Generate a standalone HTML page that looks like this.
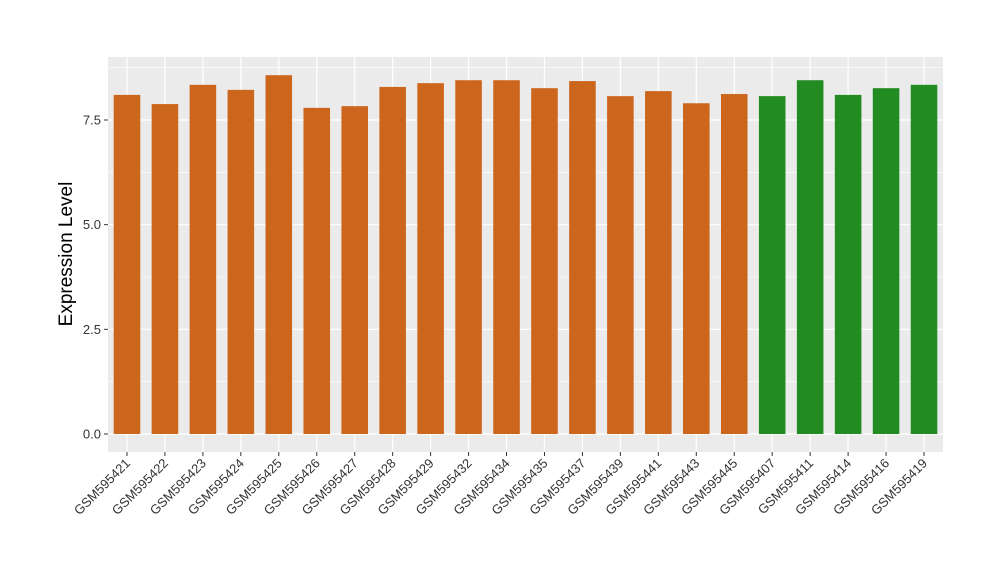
<!DOCTYPE html>
<html><head><meta charset="utf-8"><style>
body{margin:0;background:#fff;}
svg text{font-family:"Liberation Sans",sans-serif;}
</style></head><body>
<svg id="chart" width="1000" height="580">
<rect x="108" y="57" width="835" height="395" fill="#ebebeb"/>
<g id="grid"></g><g id="bars"></g><g id="yaxis"></g><g id="xaxis"></g>
<text x="72" y="254" transform="rotate(-90 72 254)" text-anchor="middle" font-size="19" fill="#000">Expression Level</text>
</svg>
<script>
const categories=["GSM595421","GSM595422","GSM595423","GSM595424","GSM595425","GSM595426","GSM595427","GSM595428","GSM595429","GSM595432","GSM595434","GSM595435","GSM595437","GSM595439","GSM595441","GSM595443","GSM595445","GSM595407","GSM595411","GSM595414","GSM595416","GSM595419"];
const values=[8.10,7.88,8.34,8.22,8.57,7.79,7.83,8.29,8.38,8.45,8.45,8.26,8.43,8.07,8.19,7.90,8.12,8.07,8.45,8.10,8.26,8.34];
const groups=["a","a","a","a","a","a","a","a","a","a","a","a","a","a","a","a","a","b","b","b","b","b"];
const yTicks=[0,2.5,5,7.5];
const yTickLabels=["0.0","2.5","5.0","7.5"];
const NS="http://www.w3.org/2000/svg";
const x0=108,x1=943,yTop=57,yBot=452;
const y=v=>434-v*(314/7.5);
const step=(x1-x0)/categories.length;
const x=i=>x0+step*(i+0.5);
function mk(t,a,p){const e=document.createElementNS(NS,t);for(const k in a)e.setAttribute(k,a[k]);p.appendChild(e);return e;}
const grid=document.getElementById('grid');
for(let k=0;k<yTicks.length;k++){
  if(k<yTicks.length-1){const m=(yTicks[k]+yTicks[k+1])/2;const l=mk('line',{x1:x0,x2:x1,y1:y(m),y2:y(m),stroke:'#fff','stroke-width':0.6},grid);
  
  }
  const l=mk('line',{x1:x0,x2:x1,y1:y(yTicks[k]),y2:y(yTicks[k]),stroke:'#fff','stroke-width':1.2},grid);
  
  
}
{const m=yTicks[yTicks.length-1]+1.25;if(y(m)>yTop){const l=mk('line',{x1:x0,x2:x1,y1:y(m),y2:y(m),stroke:'#fff','stroke-width':0.6},grid);

}}
categories.forEach((c,i)=>{const l=mk('line',{x1:x(i),x2:x(i),y1:yTop,y2:yBot,stroke:'#fff','stroke-width':1.2},grid);

});
const bars=document.getElementById('bars');
const bw=step*0.7;
values.forEach((v,i)=>{const r=mk('rect',{x:x(i)-bw/2,y:y(v),width:bw,height:y(0)-y(v),fill:groups[i]==='a'?'#cd661d':'#228b22'},bars);

});
const ya=document.getElementById('yaxis');
yTicks.forEach((t,k)=>{const l=mk('line',{x1:x0-4,x2:x0,y1:y(t),y2:y(t),stroke:'#333','stroke-width':1},ya);


const tx=mk('text',{x:x0-7,y:y(t)+4.5,'text-anchor':'end','font-size':13,fill:'#333'},ya);tx.textContent=yTickLabels[k];

});
const xa=document.getElementById('xaxis');
categories.forEach((c,i)=>{const l=mk('line',{x1:x(i),x2:x(i),y1:yBot,y2:yBot+4,stroke:'#333','stroke-width':1},xa);


const tx=mk('text',{x:x(i)+4,y:yBot+12,'text-anchor':'end','font-size':13,fill:'#333',transform:`rotate(-45 ${x(i)+4} ${yBot+12})`},xa);tx.textContent=c;

});
</script>
</body></html>
